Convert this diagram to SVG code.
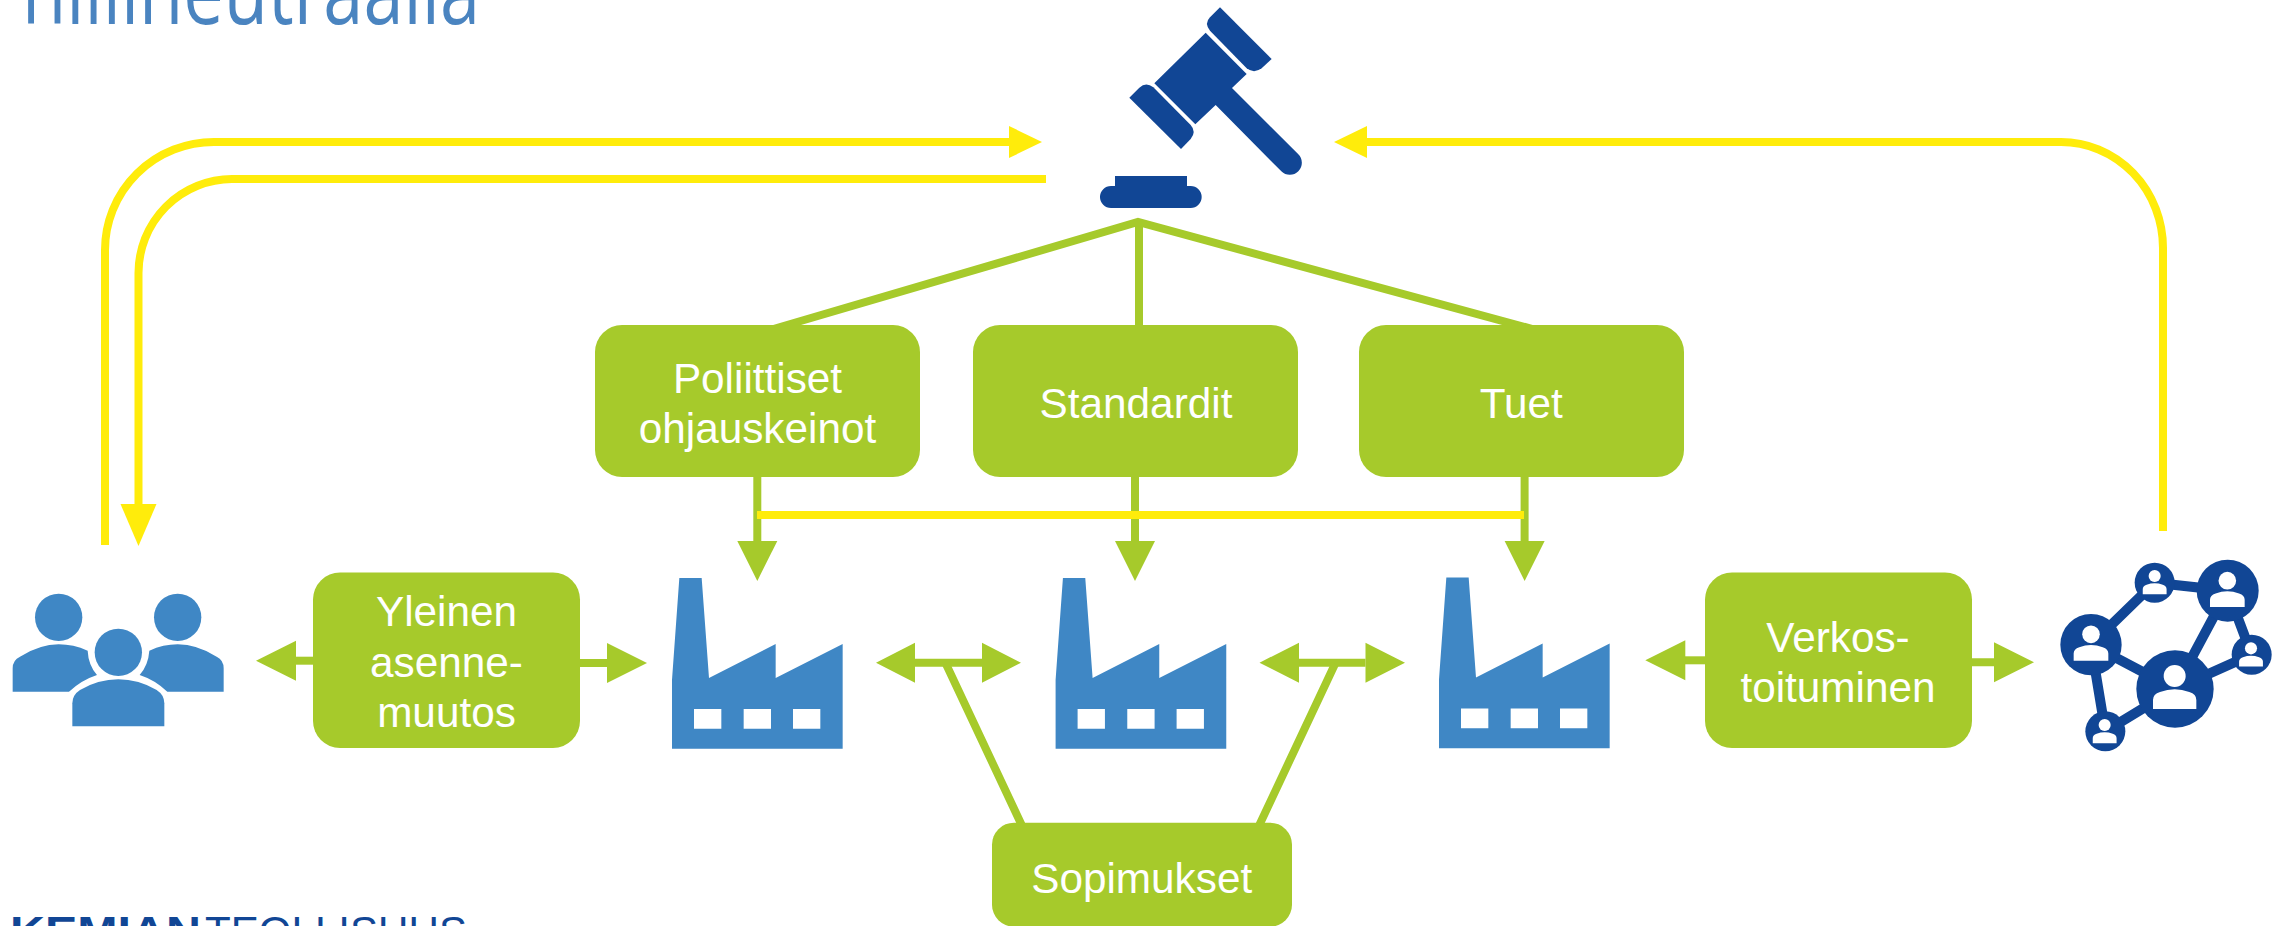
<svg xmlns="http://www.w3.org/2000/svg" xmlns:xlink="http://www.w3.org/1999/xlink" width="2287" height="926" viewBox="0 0 2287 926">
<style>
.y{fill:none;stroke:#ffec0b;stroke-width:8}
.g{fill:none;stroke:#a6ca2b;stroke-width:8}
.box{fill:#a6ca2b}
.t{font-family:"Liberation Sans",Arial,sans-serif;font-size:42.3px;fill:#fff;text-anchor:middle}
.blue{fill:#3f87c5}
.navy{fill:#114695}
</style>
<defs>
<marker id="ay" markerUnits="userSpaceOnUse" markerWidth="34" markerHeight="34" refX="1" refY="17" orient="auto" overflow="visible"><path d="M0,1L33,17L0,33Z" fill="#ffec0b"/></marker>
<marker id="agv" markerUnits="userSpaceOnUse" markerWidth="40" markerHeight="40" refX="1" refY="20" orient="auto" overflow="visible"><path d="M0,0L40,20L0,40Z" fill="#a6ca2b"/></marker>
<path id="factory" fill-rule="evenodd" d="M88,84H155L177,384L377,282V384L578,282V596H66V390ZM132,477V536H214V477ZM281,477V536H363V477ZM429,477V536H511V477Z"/>
<g id="person"><circle cx="0" cy="0" r="33"/><path d="M-65,99V72Q-65,54-44,48Q0,32,44,48Q65,54,65,72V99Z"/></g>
</defs>
<text id="title" x="22" y="24" font-family="'Open Sans','Liberation Sans',sans-serif" font-size="92" fill="#4a84c0" textLength="458" lengthAdjust="spacingAndGlyphs">hiilineutraalia</text>
<g id="connectors">
<path class="y" d="M105,545V250A109,108 0 0 1 214,142H1010" marker-end="url(#ay)"/>
<path class="y" d="M1046,179H232A94,94 0 0 0 138.500,273V505"/>
<path d="M120.500,504H156.500L138.500,546Z" fill="#ffec0b"/>
<path class="y" d="M2163,531V248A102,106 0 0 0 2061,142H1366" marker-end="url(#ay)"/>
<path class="g" d="M770,330L1138,222L1536,330"/>
<path class="g" d="M1139,222V330"/>
<path class="g" d="M757.300,470V542" marker-end="url(#agv)"/>
<path class="g" d="M1135,470V542" marker-end="url(#agv)"/>
<path class="g" d="M1524.600,470V542" marker-end="url(#agv)"/>
<path class="y" d="M757,515H1524"/>
<path class="g" d="M320,660.700H295" marker-end="url(#agv)"/>
<path class="g" d="M570,663H608" marker-end="url(#agv)"/>
<path class="g" d="M915,662.700H982"/>
<path d="M915,642.700V682.700L876,662.700ZM982,642.700V682.700L1021,662.700Z" fill="#a6ca2b"/>
<path d="M1299,642.700V682.700L1259.500,662.700ZM1365.500,642.700V682.700L1405,662.700Z" fill="#a6ca2b"/>
<path class="g" d="M1299,662.700H1365.500"/>
<path class="g" d="M1715,660.300H1684.300" marker-end="url(#agv)"/>
<path class="g" d="M1960,662.300H1995" marker-end="url(#agv)"/>
<path class="g" d="M946,664L1024,830M1335,664L1257,830"/>
</g>
<g id="gavel" class="navy" transform="translate(1050,0) scale(.33333)">
<path d="M510,22L665,177L635,205Q612,222 590,205L480,92Q462,70 480,52Z"/>
<path d="M467,98L590,222L546,264L745,463A36,36 0 0 1 694,514L497,315L436,373L313,250Z"/>
<path d="M238,293L268,263Q288,245 310,262L422,375Q440,395 422,417L393,447Z"/>
<path d="M195,528H411V558H422A33,33 0 0 1 422,624H183A33,33 0 0 1 183,558H195Z"/>
</g>
<g id="people" class="blue" transform="translate(0,540) scale(.33333)">
<circle cx="176" cy="232" r="71"/><circle cx="533" cy="232" r="71"/><circle cx="355" cy="337" r="71"/>
<path d="M38,455V385Q38,360 60,350Q120,313 176,313Q220,313 263,332Q265,375 291,405Q245,420 207,455Z"/>
<path d="M671,455V385Q671,360 650,350Q590,313 533,313Q490,313 448,332Q445,375 419,405Q465,420 502,455Z"/>
<path d="M217,559V490Q217,465 240,450Q295,418 355,418Q415,418 470,450Q493,465 493,490V559Z"/>
</g>
<g id="factory1" class="blue" transform="translate(650,550) scale(.33333)"><use xlink:href="#factory" href="#factory"/></g>
<g id="factory2" class="blue" transform="translate(1033.600,550) scale(.33333)"><use xlink:href="#factory" href="#factory"/></g>
<g id="factory3" class="blue" transform="translate(1417,549.500) scale(.33333)"><use xlink:href="#factory" href="#factory"/></g>
<g id="network" transform="translate(2040,540) scale(.33333)">
<path d="M153,314L344,128L563,152L405,447L153,314L196,574L405,447L635,344L563,152" fill="none" stroke="#114695" stroke-width="30"/>
<g class="navy"><circle cx="405" cy="447" r="116"/><circle cx="153" cy="314" r="92"/><circle cx="563" cy="152" r="93"/><circle cx="344" cy="128" r="60"/><circle cx="635" cy="344" r="60"/><circle cx="196" cy="574" r="60"/></g>
<g fill="#fff">
<use href="#person" xlink:href="#person" transform="translate(404,408)"/>
<use href="#person" xlink:href="#person" transform="translate(153,283) scale(.8)"/>
<use href="#person" xlink:href="#person" transform="translate(562,122) scale(.8)"/>
<use href="#person" xlink:href="#person" transform="translate(344,108) scale(.55)"/>
<use href="#person" xlink:href="#person" transform="translate(633,325) scale(.55)"/>
<use href="#person" xlink:href="#person" transform="translate(194,555) scale(.55)"/>
</g>
</g>
<g id="n-poliittiset"><rect class="box" x="595" y="325" width="325" height="152" rx="27"/><text class="t" x="757.500" y="392.700">Poliittiset</text><text class="t" x="757.500" y="442.700">ohjauskeinot</text></g>
<g id="n-standardit"><rect class="box" x="973" y="325" width="325" height="152" rx="27"/><text class="t" x="1136" y="417.500">Standardit</text></g>
<g id="n-tuet"><rect class="box" x="1359" y="325" width="325" height="152" rx="27"/><text class="t" x="1521.300" y="417.500">Tuet</text></g>
<g id="n-yleinen"><rect class="box" x="313" y="572.500" width="267" height="175.500" rx="27"/><text class="t" x="446.500" y="625.700">Yleinen</text><text class="t" x="446.500" y="676.700">asenne-</text><text class="t" x="446.500" y="727">muutos</text></g>
<g id="n-verkos"><rect class="box" x="1705" y="572.500" width="267" height="175.500" rx="27"/><text class="t" x="1838" y="651.700">Verkos-</text><text class="t" x="1838" y="701.700">toituminen</text></g>
<g id="n-sopimukset"><rect class="box" x="992" y="822.700" width="300" height="104" rx="22"/><text class="t" x="1141.700" y="892.700">Sopimukset</text></g>
<text id="logo-bold" x="10" y="946" font-family="'Liberation Sans',sans-serif" font-size="43" font-weight="bold" fill="#114695" textLength="191" lengthAdjust="spacingAndGlyphs">KEMIAN</text>
<text id="logo-regular" x="205" y="946" font-family="'Liberation Sans',sans-serif" font-size="43" fill="#114695" textLength="262" lengthAdjust="spacingAndGlyphs">TEOLLISUUS</text>
</svg>
